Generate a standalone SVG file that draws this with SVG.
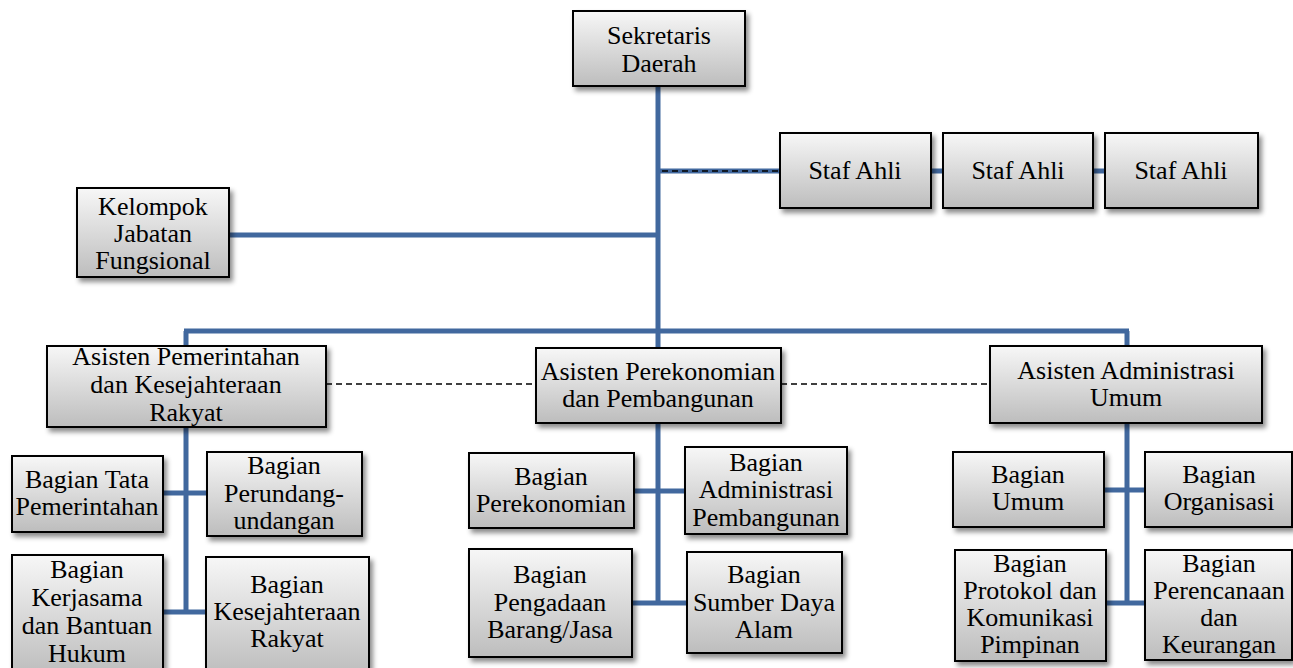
<svg xmlns="http://www.w3.org/2000/svg" width="1293" height="668" viewBox="0 0 1293 668">
<defs>
<linearGradient id="g" x1="0" y1="0" x2="0" y2="1">
<stop offset="0" stop-color="#f7f7f7"/>
<stop offset="1" stop-color="#bdbdbd"/>
</linearGradient>
<filter id="sh" x="-10%" y="-10%" width="130%" height="140%">
<feDropShadow dx="3" dy="4" stdDeviation="2.5" flood-color="#000" flood-opacity="0.45"/>
</filter>
</defs>
<style>
.box{fill:url(#g);stroke:#000;stroke-width:2;filter:url(#sh)}
.t{font-family:"Liberation Serif","Times New Roman",serif;font-size:26px;fill:#000;text-anchor:middle}
.c{stroke:#41689e;stroke-width:5;fill:none}
.d{stroke:#000;stroke-width:1.6;stroke-dasharray:6,4;fill:none}
</style>
<rect width="1293" height="668" fill="#fff"/>
<g id="connectors">
<path class="c" d="M658 86V603M658 235H229M658 171H780M931 171H943M1093 171H1105M184 331H1129M186 331V612M1127 331V603M162 493H207M162 612H206M634 491H685M632 603H687M1104 490H1145M1106 603H1145"/>
<path class="d" d="M662 171H780"/>
<path class="d" d="M326 384H536M781 384H990"/>
</g>
<g id="sekda"><rect class="box" x="573" y="11" width="172" height="75"/><text class="t" x="659" y="44">Sekretaris</text><text class="t" x="659" y="72">Daerah</text></g>
<g id="staf1"><rect class="box" x="780" y="133" width="151" height="75"/><text class="t" x="855" y="179">Staf Ahli</text></g>
<g id="staf2"><rect class="box" x="943" y="133" width="150" height="75"/><text class="t" x="1018" y="179">Staf Ahli</text></g>
<g id="staf3"><rect class="box" x="1105" y="133" width="153" height="75"/><text class="t" x="1181" y="179">Staf Ahli</text></g>
<g id="kjf"><rect class="box" x="77" y="188" width="152" height="89"/><text class="t" x="153" y="215">Kelompok</text><text class="t" x="153" y="242">Jabatan</text><text class="t" x="153" y="269">Fungsional</text></g>
<g id="asisten1"><rect class="box" x="47" y="346" width="279" height="81"/><text class="t" x="186" y="365">Asisten Pemerintahan</text><text class="t" x="186" y="393">dan Kesejahteraan</text><text class="t" x="186" y="421">Rakyat</text></g>
<g id="asisten2"><rect class="box" x="536" y="348" width="245" height="75"/><text class="t" x="658" y="380">Asisten Perekonomian</text><text class="t" x="658" y="407">dan Pembangunan</text></g>
<g id="asisten3"><rect class="box" x="990" y="346" width="272" height="77"/><text class="t" x="1126" y="379">Asisten Administrasi</text><text class="t" x="1126" y="406">Umum</text></g>
<g id="tata"><rect class="box" x="12" y="456" width="151" height="76"/><text class="t" x="87" y="488">Bagian Tata</text><text class="t" x="87" y="515">Pemerintahan</text></g>
<g id="perundang"><rect class="box" x="207" y="452" width="155" height="84"/><text class="t" x="284" y="474">Bagian</text><text class="t" x="284" y="502">Perundang-</text><text class="t" x="284" y="529">undangan</text></g>
<g id="kerjasama"><rect class="box" x="12" y="555" width="151" height="120"/><text class="t" x="87" y="578">Bagian</text><text class="t" x="87" y="606">Kerjasama</text><text class="t" x="87" y="634">dan Bantuan</text><text class="t" x="87" y="662">Hukum</text></g>
<g id="kesra"><rect class="box" x="206" y="557" width="163" height="118"/><text class="t" x="287" y="593">Bagian</text><text class="t" x="287" y="620">Kesejahteraan</text><text class="t" x="287" y="647">Rakyat</text></g>
<g id="perekonomian"><rect class="box" x="469" y="453" width="165" height="75"/><text class="t" x="551" y="485">Bagian</text><text class="t" x="551" y="512">Perekonomian</text></g>
<g id="adpem"><rect class="box" x="685" y="447" width="162" height="87"/><text class="t" x="766" y="471">Bagian</text><text class="t" x="766" y="498">Administrasi</text><text class="t" x="766" y="526">Pembangunan</text></g>
<g id="pengadaan"><rect class="box" x="469" y="549" width="163" height="108"/><text class="t" x="550" y="583">Bagian</text><text class="t" x="550" y="611">Pengadaan</text><text class="t" x="550" y="638">Barang/Jasa</text></g>
<g id="sda"><rect class="box" x="687" y="552" width="155" height="101"/><text class="t" x="764" y="583">Bagian</text><text class="t" x="764" y="611">Sumber Daya</text><text class="t" x="764" y="638">Alam</text></g>
<g id="umum"><rect class="box" x="953" y="452" width="151" height="75"/><text class="t" x="1028" y="483">Bagian</text><text class="t" x="1028" y="510">Umum</text></g>
<g id="organisasi"><rect class="box" x="1145" y="452" width="147" height="75"/><text class="t" x="1219" y="483">Bagian</text><text class="t" x="1219" y="510">Organisasi</text></g>
<g id="protokol"><rect class="box" x="955" y="550" width="151" height="111"/><text class="t" x="1030" y="572">Bagian</text><text class="t" x="1030" y="599">Protokol dan</text><text class="t" x="1030" y="626">Komunikasi</text><text class="t" x="1030" y="653">Pimpinan</text></g>
<g id="perencanaan"><rect class="box" x="1145" y="550" width="147" height="110"/><text class="t" x="1219" y="572">Bagian</text><text class="t" x="1219" y="599">Perencanaan</text><text class="t" x="1219" y="626">dan</text><text class="t" x="1219" y="653">Keurangan</text></g>
</svg>
